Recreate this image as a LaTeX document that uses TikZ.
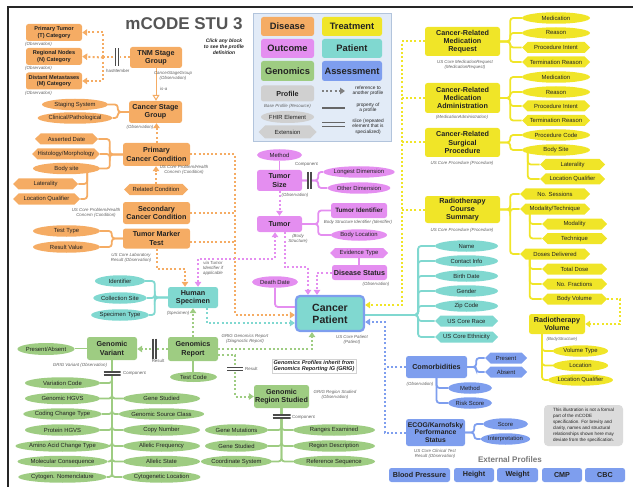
\documentclass[tikz,border=0pt]{standalone}
\usepackage{fontspec}
\setmainfont{Liberation Sans}
\usetikzlibrary{shapes.geometric,shapes.symbols,arrows.meta}
\pgfdeclarelayer{bg}
\pgfsetlayers{bg,main}
\definecolor{cO}{RGB}{245,172,100}
\definecolor{cY}{RGB}{240,229,40}
\definecolor{cV}{RGB}{228,142,240}
\definecolor{cT}{RGB}{128,216,208}
\definecolor{cG}{RGB}{158,204,130}
\definecolor{cB}{RGB}{126,158,238}
\definecolor{cGr}{RGB}{208,208,208}
\definecolor{txt}{RGB}{35,35,35}
\definecolor{labc}{RGB}{95,95,95}
\definecolor{barc}{RGB}{75,75,75}
\definecolor{titc}{RGB}{85,85,85}
\definecolor{legbg}{RGB}{226,235,247}
\definecolor{legbd}{RGB}{178,196,220}
\newcommand\fzE{\fontsize{5.9}{6.8}\selectfont}
\newcommand\fzP{\bfseries\fontsize{7.2}{8.3}\selectfont}
\newcommand\fzS{\bfseries\fontsize{5.6}{6.5}\selectfont}
\newcommand\fzL{\itshape\fontsize{4.4}{5.1}\selectfont}
\newcommand\fzC{\fontsize{4.4}{5.1}\selectfont}
\tikzset{
  wh/.style 2 args={minimum width=#1pt, minimum height=#2pt},
  prof/.style={rectangle, rounded corners=2.5pt, fill=#1, font=\fzP, text=txt, align=center, inner sep=0.5pt},
  elem/.style={ellipse, fill=#1, font=\fzE, text=txt, inner sep=0pt, minimum height=11.5pt},
  extn/.style={signal, signal to=east and west, fill=#1, font=\fzE, text=txt, inner sep=0pt, minimum height=11pt},
  lab/.style={font=\fzL, text=labc, align=center, inner sep=0pt},
  cmp/.style={font=\fzC, text=labc, inner sep=0pt, anchor=west},
  sline/.style={draw=#1, line width=1.8pt, rounded corners=3pt},
  dline/.style={draw=#1, line width=2pt, dash pattern=on 2pt off 2.2pt},
  darr/.style={dline=#1, -{Triangle[length=5pt,width=6.5pt]}},
  vbar/.style={rectangle, fill=white, inner sep=0pt, minimum width=5pt, minimum height=#1pt,
    path picture={\draw[line width=1.1pt, barc] ([xshift=1pt]path picture bounding box.north west) -- ([xshift=1pt]path picture bounding box.south west) ([xshift=-1pt]path picture bounding box.north east) -- ([xshift=-1pt]path picture bounding box.south east);}},
  hbar/.style={rectangle, fill=white, inner sep=0pt, minimum height=5pt, minimum width=#1pt,
    path picture={\draw[line width=1.1pt, barc] ([yshift=-1pt]path picture bounding box.north west) -- ([yshift=-1pt]path picture bounding box.north east) ([yshift=1pt]path picture bounding box.south west) -- ([yshift=1pt]path picture bounding box.south east);}},
}
\begin{document}
\begin{tikzpicture}[x=1pt,y=-1pt]
\useasboundingbox (0,0) rectangle (633,487);
\draw[line width=2pt, black!85] (8,487) -- (8,7) -- (633,7);

% title
\node[font=\bfseries\fontsize{17}{20}\selectfont, text=titc] (title) at (184,24) {mCODE STU 3};
\node[font=\bfseries\itshape\fontsize{5}{5.8}\selectfont, align=center, text=txt] (click) at (224,47) {Click any block\\to see the profile\\definition};

% legend
\node[fill=legbg, draw=legbd, line width=0.6pt, wh={138}{128}, inner sep=0pt] (legend) at (322,77) {};
\node[prof=cO, wh={53}{19}, font=\bfseries\fontsize{9.3}{10}\selectfont] (ldis) at (287.5,26.5) {Disease};
\node[prof=cY, wh={60}{19}, font=\bfseries\fontsize{9.3}{10}\selectfont] (ltre) at (352,26.5) {Treatment};
\node[prof=cV, wh={53}{19}, font=\bfseries\fontsize{9.3}{10}\selectfont] (lout) at (287.5,48.5) {Outcome};
\node[prof=cT, wh={60}{19}, font=\bfseries\fontsize{9.3}{10}\selectfont] (lpat) at (352,48.5) {Patient};
\node[prof=cG, wh={53}{20}, font=\bfseries\fontsize{9.3}{10}\selectfont] (lgen) at (287.5,71) {Genomics};
\node[prof=cB, wh={60}{20}, font=\bfseries\fontsize{9.3}{10}\selectfont] (lass) at (352,71) {Assessment};
\node[prof=cGr, wh={53}{16}] (lprof) at (287.5,93.5) {Profile};
\node[lab] (lprofl) at (287.5,106) {Base Profile (Resource)};
\node[elem=cGr, minimum width=53pt, minimum height=12pt] (lfhir) at (287.5,117) {FHIR Element};
\node[extn=cGr, minimum width=58pt, minimum height=13pt] (lext) at (287.5,132) {Extension};
\coordinate (lra) at (322,91); \coordinate (lrb) at (345,91);
\draw[darr=gray] (lra) -- (lrb);
\node[font=\fontsize{4.8}{5.5}\selectfont, align=center, text=txt] (lrt) at (368,91) {reference to\\another profile};
\coordinate (lpa) at (322,108); \coordinate (lpb) at (345,108);
\draw[line width=2pt, gray!80!black] (lpa) -- (lpb);
\node[font=\fontsize{4.8}{5.5}\selectfont, align=center, text=txt] (lpt) at (368,108) {property of\\a profile};
\coordinate (lsa) at (322,122.5); \coordinate (lsb) at (345,122.5);
\coordinate (lsc) at (322,126.5); \coordinate (lsd) at (345,126.5);
\draw[line width=1.5pt, gray!80!black] (lsa) -- (lsb) (lsc) -- (lsd);
\node[font=\fontsize{4.8}{5.5}\selectfont, align=center, text=txt] (lst) at (368,126.5) {slice (repeated\\element that is\\specialized)};

% ---------------- Disease (orange)
\node[prof=cO, wh={56}{17}, font=\fzS] (pt) at (54,32.5) {Primary Tumor\\(T) Category};
\node[lab, anchor=west] (ptl) at (25,44.5) {(Observation)};
\node[prof=cO, wh={56}{17}, font=\fzS] (rn) at (54,56.5) {Regional Nodes\\(N) Category};
\node[lab, anchor=west] (rnl) at (25,68.5) {(Observation)};
\node[prof=cO, wh={56}{17}, font=\fzS] (dm) at (54,81) {Distant Metastases\\(M) Category};
\node[lab, anchor=west] (dml) at (25,93) {(Observation)};
\node[prof=cO, wh={52}{21}] (tnm) at (156,57.5) {TNM Stage\\Group};
\node[lab] (tnml) at (173,76) {CancerStageGroup\\(Observation)};
\node[lab, anchor=west] (isa) at (160,89) {is-a};
\coordinate (tj) at (103,57.5);
\node[cmp] (hasm) at (106,71) {hasMember};
\node[prof=cO, wh={53}{22}] (csg) at (155.5,112) {Cancer Stage\\Group};
\node[lab] (csgl) at (140,127.5) {(Observation)};
\node[elem=cO, minimum width=66pt] (ss) at (75,104.5) {Staging System};
\node[elem=cO, minimum width=66pt] (cpn) at (75,118) {Clinical/Pathological};
\node[prof=cO, wh={67}{23}] (pcc) at (156.5,154.5) {Primary\\Cancer Condition};
\node[extn=cO, minimum width=63pt] (ad) at (66.5,139) {Asserted Date};
\node[extn=cO, minimum width=65pt] (hm) at (66,154) {Histology/Morphology};
\node[elem=cO, minimum width=67pt] (bs) at (66.5,168.5) {Body site};
\node[extn=cO, minimum width=65pt] (lat) at (45.5,184) {Laterality};
\node[extn=cO, minimum width=67pt] (lq) at (46.5,199) {Location Qualifier};
\node[lab] (pccl) at (184,170) {US Core Problem/Health\\Concern (Condition)};
\node[extn=cO, minimum width=64pt] (rc) at (156,189.5) {Related Condition};
\node[prof=cO, wh={67}{22}] (scc) at (156.5,213) {Secondary\\Cancer Condition};
\node[lab] (sccl) at (96,213) {US Core Problem/Health\\Concern (Condition)};
\node[prof=cO, wh={67}{20}] (tmt) at (156.5,238.5) {Tumor Marker\\Test};
\node[elem=cO, minimum width=67pt] (tt) at (66.5,231) {Test Type};
\node[elem=cO, minimum width=67pt] (rv) at (66.5,247) {Result Value};
\node[lab] (tmtl) at (131,257.5) {US Core Laboratory\\Result (Observation)};

% ---------------- Patient (teal)
\node[prof=cT, draw=cB, line width=2.2pt, rounded corners=4pt, wh={68}{35}, font=\bfseries\fontsize{10.5}{12}\selectfont] (cpat) at (330,313.5) {Cancer\\Patient};
\node[lab] (cpatl) at (352,340) {US Core Patient\\(Patient)};
\node[prof=cT, wh={50}{21}] (hs) at (193,297.5) {Human\\Specimen};
\node[lab] (hsl) at (178,313) {(Specimen)};
\node[elem=cT, minimum width=50pt] (idf) at (120,281) {Identifier};
\node[elem=cT, minimum width=50pt] (csite) at (120,298) {Collection Site};
\node[elem=cT, minimum width=50pt] (stype) at (120,315) {Specimen Type};
\node[elem=cT, minimum width=63pt] (nm) at (466.5,246) {Name};
\node[elem=cT, minimum width=63pt] (ci) at (466.5,261) {Contact Info};
\node[elem=cT, minimum width=63pt] (bd) at (466.5,276) {Birth Date};
\node[elem=cT, minimum width=63pt] (gen) at (466.5,291) {Gender};
\node[elem=cT, minimum width=63pt] (zc) at (466.5,306) {Zip Code};
\node[extn=cT, minimum width=63pt] (ucr) at (466.5,321) {US Core Race};
\node[extn=cT, minimum width=63pt] (uce) at (466.5,337) {US Core Ethnicity};

% ---------------- Outcome (violet)
\node[elem=cV, minimum width=45pt] (meth) at (279.5,155) {Method};
\node[cmp] (tscmp) at (295,164) {Component};
\node[prof=cV, wh={45}{21}] (ts) at (279.5,180.5) {Tumor\\Size};
\node[lab] (tsl) at (295,195) {(Observation)};
\node[vbar=17] (tsbar) at (309.5,180.5) {};
\node[elem=cV, minimum width=62pt] (ld) at (359,172) {Longest Dimension};
\node[elem=cV, minimum width=62pt] (odim) at (359,188) {Other Dimension};
\node[prof=cV, wh={45}{16}] (tu) at (279.5,224) {Tumor};
\node[lab] (tul) at (298,239) {(Body\\Structure)};
\node[prof=cV, wh={56}{15}, font=\bfseries\fontsize{6.3}{7}\selectfont] (ti) at (359,210.5) {Tumor Identifier};
\node[lab] (til) at (358,222.5) {Body Structure Identifier (Identifier)};
\node[elem=cV, minimum width=56pt] (bl) at (359,235) {Body Location};
\node[extn=cV, minimum width=58pt, minimum height=10pt] (et) at (359,253) {Evidence Type};
\node[prof=cV, wh={55}{15}] (ds) at (359.5,272.5) {Disease Status};
\node[lab] (dsl) at (376,284) {(Observation)};
\node[elem=cV, minimum width=46pt] (dd) at (275,282) {Death Date};
\node[lab] (viat) at (213,268) {via Tumor\\Identifier if\\applicable};

% ---------------- Genomics (green)
\node[prof=cG, wh={50}{24}] (gr) at (193,349) {Genomics\\Report};
\node[lab] (grl) at (245,339) {GRIG Genomics Report\\(Diagnostic Report)};
\node[elem=cG, minimum width=47pt, minimum height=10pt] (tc) at (193.5,377) {Test Code};
\node[prof=cG, wh={50}{23}] (gv) at (112,348.5) {Genomic\\Variant};
\node[vbar=20] (gvbar) at (154.5,348.5) {};
\node[cmp, anchor=center] (gvres) at (158,361) {Result};
\node[elem=cG, minimum width=52pt, minimum height=12pt] (pa) at (46,349) {Present/Absent};
\node[lab] (gvl) at (80,365) {GRIG Variant (Observation)};
\node[hbar=17] (gvcb) at (112,373.5) {};
\node[cmp] (gvcmp) at (123,373.5) {Component};
\node[elem=cG, minimum width=75pt, minimum height=11.5pt] (vc) at (62.5,383) {Variation Code};
\node[elem=cG, minimum width=75pt, minimum height=11.5pt] (gh) at (62.5,398.5) {Genomic HGVS};
\node[elem=cG, minimum width=75pt, minimum height=11.5pt] (cct) at (62.5,414) {Coding Change Type};
\node[elem=cG, minimum width=75pt, minimum height=11.5pt] (ph) at (62.5,430) {Protein HGVS};
\node[elem=cG, minimum width=75pt, minimum height=11.5pt] (aac) at (62.5,446) {Amino Acid Change Type};
\node[elem=cG, minimum width=75pt, minimum height=11.5pt] (mc) at (62.5,461.5) {Molecular Consequence};
\node[elem=cG, minimum width=75pt, minimum height=11.5pt] (cyn) at (62.5,477) {Cytogen. Nomenclature};
\node[elem=cG, minimum width=77pt, minimum height=11.5pt] (gst) at (161.5,398.5) {Gene Studied};
\node[elem=cG, minimum width=77pt, minimum height=11.5pt] (gsc) at (161.5,414) {Genomic Source Class};
\node[elem=cG, minimum width=77pt, minimum height=11.5pt] (cnum) at (161.5,430) {Copy Number};
\node[elem=cG, minimum width=77pt, minimum height=11.5pt] (afr) at (161.5,446) {Allelic Frequency};
\node[elem=cG, minimum width=77pt, minimum height=11.5pt] (ast) at (161.5,461.5) {Allelic State};
\node[elem=cG, minimum width=77pt, minimum height=11.5pt] (cyl) at (161.5,477) {Cytogenetic Location};
\node[hbar=16] (grcb) at (235,369) {};
\node[cmp] (grres) at (245,369) {Result};
\node[draw=gray!35, fill=white, font=\bfseries\itshape\fontsize{5.5}{6.4}\selectfont, align=left, inner sep=1.5pt, text=txt] (grig) at (314,366) {Genomics Profiles inherit from\\Genomics Reporting IG (GRIG)};
\node[prof=cG, wh={55}{23}] (grs) at (281.5,396.5) {Genomic\\Region Studied};
\node[lab] (grsl) at (335,395) {GRIG Region Studied\\(Observation)};
\node[hbar=18] (grscb) at (281.5,416.5) {};
\node[cmp] (grscmp) at (292,417) {Component};
\node[elem=cG, minimum width=63pt, minimum height=11.5pt] (gm) at (236.5,430) {Gene Mutations};
\node[elem=cG, minimum width=63pt, minimum height=11.5pt] (gs2) at (236.5,446) {Gene Studied};
\node[elem=cG, minimum width=63pt, minimum height=11.5pt] (cs2) at (236.5,461.5) {Coordinate System};
\node[elem=cG, minimum width=82pt, minimum height=11.5pt] (rex) at (334,430) {Ranges Examined};
\node[elem=cG, minimum width=82pt, minimum height=11.5pt] (rdes) at (334,446) {Region Description};
\node[elem=cG, minimum width=82pt, minimum height=11.5pt] (rseq) at (334,461.5) {Reference Sequence};

% ---------------- Assessment (blue)
\node[prof=cB, wh={61}{22}] (com) at (436.5,367) {Comorbidities};
\node[lab] (coml) at (420,384) {(Observation)};
\node[extn=cB, minimum width=42pt] (pres) at (506,358) {Present};
\node[extn=cB, minimum width=42pt] (abs) at (506,372) {Absent};
\node[elem=cB, minimum width=44pt] (me) at (470,388) {Method};
\node[elem=cB, minimum width=44pt] (rsk) at (470,403) {Risk Score};
\node[prof=cB, wh={59}{27}, font=\bfseries\fontsize{6.8}{7.9}\selectfont] (ecog) at (435.5,432.5) {ECOG/Karnofsky\\Performance\\Status};
\node[lab] (ecogl) at (435,453.5) {US Core Clinical Test\\Result (Observation)};
\node[elem=cB, minimum width=45pt] (sco) at (505.5,424) {Score};
\node[elem=cB, minimum width=45pt] (intp) at (505.5,439) {Interpretation};
\node[font=\bfseries\fontsize{8.1}{9}\selectfont, text=gray!95!black] (extp) at (510,460) {External Profiles};
\node[prof=cB, wh={61}{14}] (bp) at (419.5,475) {Blood Pressure};
\node[prof=cB, wh={40}{14}] (ht) at (474,475) {Height};
\node[prof=cB, wh={41}{14}] (wt) at (517.5,475) {Weight};
\node[prof=cB, wh={40}{14}] (cmpn) at (562,475) {CMP};
\node[prof=cB, wh={40}{14}] (cbc) at (605,475) {CBC};
\node[fill=gray!28, rounded corners=4pt, wh={79}{41}, font=\fontsize{4.6}{6}\selectfont, align=left, text=txt, inner sep=2pt] (note) at (583.5,425.5) {This illustration is not a formal\\part of the mCODE\\specification. For brevity and\\clarity, names and structural\\relationships shown here may\\deviate from the specification.};

% ---------------- Treatment (yellow)
\node[prof=cY, wh={75}{29}] (mr) at (462.5,41.5) {Cancer-Related\\Medication\\Request};
\node[lab] (mrl) at (465,65) {US Core MedicationRequest\\(MedicationRequest)};
\node[elem=cY, minimum width=68pt] (m1) at (556,18) {Medication};
\node[elem=cY, minimum width=68pt] (r1) at (556,33) {Reason};
\node[extn=cY, minimum width=68pt] (pi1) at (556,47.5) {Procedure Intent};
\node[extn=cY, minimum width=68pt] (tr1) at (556,62) {Termination Reason};
\node[prof=cY, wh={75}{30}] (ma) at (462.5,98) {Cancer-Related\\Medication\\Administration};
\node[lab] (mal) at (462,117.5) {(MedicationAdministration)};
\node[elem=cY, minimum width=68pt] (m2) at (556,77) {Medication};
\node[elem=cY, minimum width=68pt] (r2) at (556,92) {Reason};
\node[extn=cY, minimum width=68pt] (pi2) at (556,106) {Procedure Intent};
\node[extn=cY, minimum width=68pt] (tr2) at (556,120.5) {Termination Reason};
\node[prof=cY, wh={75}{29}] (sp) at (462.5,142.5) {Cancer-Related\\Surgical\\Procedure};
\node[lab] (spl) at (462,163) {US Core Procedure (Procedure)};
\node[elem=cY, minimum width=68pt] (pc) at (556,135) {Procedure Code};
\node[elem=cY, minimum width=68pt] (bsite) at (556,150) {Body Site};
\node[extn=cY, minimum width=65pt] (lat2) at (572.5,164.5) {Laterality};
\node[extn=cY, minimum width=65pt] (lq2) at (572.5,179) {Location Qualifier};
\node[prof=cY, wh={75}{27}] (rcs) at (462.5,209.5) {Radiotherapy\\Course\\Summary};
\node[lab] (rcsl) at (462,230) {US Core Procedure (Procedure)};
\node[extn=cY, minimum width=70pt] (ns) at (555,194) {No. Sessions};
\node[extn=cY, minimum width=70pt] (mt) at (555,209) {Modality/Technique};
\node[extn=cY, minimum width=65pt] (mo) at (574.5,224) {Modality};
\node[extn=cY, minimum width=65pt] (te) at (574.5,238.5) {Technique};
\node[extn=cY, minimum width=70pt] (dsd) at (555,254) {Doses Delivered};
\node[extn=cY, minimum width=65pt] (tdo) at (574.5,269) {Total Dose};
\node[extn=cY, minimum width=65pt] (nf) at (574.5,284) {No. Fractions};
\node[extn=cY, minimum width=65pt] (bv) at (574.5,299) {Body Volume};
\node[prof=cY, wh={56}{20}] (rv2) at (557,324) {Radiotherapy\\Volume};
\node[lab] (rv2l) at (562,339) {(BodyStructure)};
\node[elem=cY, minimum width=55pt] (vt) at (580.5,351) {Volume Type};
\node[elem=cY, minimum width=55pt] (loc) at (580.5,365.5) {Location};
\node[elem=cY, minimum width=55pt] (lq3) at (580.5,380) {Location Qualifier};

\node[vbar=18] (tbar) at (117,57.5) {};

% ---------------- connectors
\begin{pgfonlayer}{bg}
% orange
\draw[dline=cO] (tnm.west) -- (tj);
\draw[darr=cO] (tj) |- (pt.east);
\draw[darr=cO] (tj) -- (rn.east);
\draw[darr=cO] (tj) |- (dm.east);
\draw[draw=cO, line width=1pt, -{Triangle[open,length=6pt,width=7pt,fill=white]}] (tnm.south) -- (tnm.south |- csg.north);
\draw[sline=cO] (csg.west) -- ++(-11,0) |- (ss.east);
\draw[sline=cO] (csg.west) -- ++(-11,0) |- (cpn.east);
\draw[darr=cO] (pcc.north) -- (pcc.north |- csg.south);
\draw[sline=cO] (pcc.west) -- ++(-13,0) |- (ad.east);
\draw[sline=cO] (pcc.west) -- ++(-13,0) |- (hm.east);
\draw[sline=cO] (pcc.west) -- ++(-13,0) |- (bs.east);
\draw[sline=cO] ([xshift=-13pt]bs.east) |- (lat.east);
\draw[sline=cO] ([xshift=-13pt]bs.east) |- (lq.east);
\draw[darr=cO] (rc.north) -- (rc.north |- pcc.south);
\draw[sline=cO] (tmt.west) -- ++(-11,0) |- (tt.east);
\draw[sline=cO] (tmt.west) -- ++(-11,0) |- (rv.east);
\coordinate (otr) at (235,315);
\draw[darr=cO] (pcc.east) -| (otr) -- ([yshift=-1.5pt]cpat.west);
\draw[dline=cO] (scc.east) -- (scc.east -| otr);
\draw[dline=cO] ([yshift=-3pt]tmt.east) -- ([yshift=-3pt]tmt.east -| otr);
\draw[darr=cO] (tmt.south) -- ++(0,20) -| ([xshift=-8pt]hs.north);
% teal
\draw[sline=cT] (hs.west) -- ++(-13,0) |- (idf.east);
\draw[sline=cT] (hs.west) -- ++(-13,0) |- (csite.east);
\draw[sline=cT] (hs.west) -- ++(-13,0) |- (stype.east);
\draw[darr=cT] ([xshift=14pt]hs.south) |- ([yshift=-9.5pt]cpat.west);
\foreach \e in {nm,ci,bd,gen,zc,ucr,uce}{
  \draw[sline=cT] ([yshift=-1.5pt]cpat.east) -- ++(53,0) |- (\e.west);
}
% violet
\draw[sline=cV] (meth.south) -- (meth.south |- ts.north);
\draw[sline=cV] (ts.east) -- ++(16,0) |- (ld.west);
\draw[sline=cV] (ts.east) -- ++(16,0) |- (odim.west);
\draw[darr=cV] (ts.south) -- (tu.north);
\draw[sline=cV] (tu.east) -- ++(16,0) |- (ti.west);
\draw[sline=cV] (tu.east) -- ++(16,0) |- (bl.west);
\draw[sline=cV] (et.south) -- (et.south |- ds.north);
\draw[darr=cV] (ds.west) -| ([xshift=-13pt]cpat.north);
\draw[darr=cV] ([xshift=5pt]tu.south) -- ++(0,35) -| ([xshift=-22pt]cpat.north);
\draw[sline=cV] (dd.south) |- ([yshift=6.5pt]cpat.west);
\draw[dline=cV, {Triangle[length=5pt,width=6.5pt]}-{Triangle[length=5pt,width=6.5pt]}] ([xshift=5pt]hs.north) -- ++(0,-28) -| ([xshift=-4.5pt]tu.south);
% green
\draw[darr=cG] (gr.north) -- (gr.north |- hs.south);
\draw[darr=cG] (gr.east) -| ([xshift=-18pt]cpat.south);
\draw[sline=cG] (gr.south) -- (gr.south |- tc.north);
\draw[darr=cG] (gr.west) -- (gr.west -| gv.east);
\draw[sline=cG] (gv.west) -- (gv.west -| pa.east);
\foreach \e in {vc,gh,cct,ph,aac,mc,cyn}{\draw[sline=cG] (gv.south) |- (\e.east);}
\foreach \e in {gst,gsc,cnum,afr,ast,cyl}{\draw[sline=cG] (gv.south) |- (\e.west);}
\draw[darr=cG] ([yshift=-6pt]gr.east) -- ++(17,0) |- (grs.west);
\foreach \e in {gm,gs2,cs2}{\draw[sline=cG] (grs.south) |- (\e.east);}
\foreach \e in {rex,rdes,rseq}{\draw[sline=cG] (grs.south) |- (\e.west);}
% blue
\draw[darr=cB] (ecog.west) -- ++(-21,0) |- ([yshift=-8.5pt]cpat.east);
\draw[dline=cB] (com.west) -- ++(-21,0);
\draw[sline=cB] (com.east) -- ++(9,0) |- (pres.west);
\draw[sline=cB] (com.east) -- ++(9,0) |- (abs.west);
\draw[sline=cB] (com.south) |- (me.west);
\draw[sline=cB] (com.south) |- (rsk.west);
\draw[sline=cB] (ecog.east) -- ++(9,0) |- (sco.west);
\draw[sline=cB] (ecog.east) -- ++(9,0) |- (intp.west);
% yellow
\draw[darr=cY] (mr.west) -- ++(-23,0) |- ([yshift=8.5pt]cpat.east);
\draw[dline=cY] (ma.west) -- ++(-23,0);
\draw[dline=cY] (sp.west) -- ++(-23,0);
\draw[dline=cY] (rcs.west) -- ++(-23,0);
\foreach \e in {m1,r1,pi1,tr1}{\draw[sline=cY] (mr.east) -- ++(10,0) |- (\e.west);}
\foreach \e in {m2,r2,pi2,tr2}{\draw[sline=cY] (ma.east) -- ++(10,0) |- (\e.west);}
\foreach \e in {pc,bsite}{\draw[sline=cY] (sp.east) -- ++(10,0) |- (\e.west);}
\foreach \e in {lat2,lq2}{\draw[sline=cY] ([xshift=6pt]bsite.west) |- (\e.west);}
\foreach \e in {ns,mt,dsd}{\draw[sline=cY] (rcs.east) -- ++(10,0) |- (\e.west);}
\foreach \e in {mo,te}{\draw[sline=cY] ([xshift=10pt]mt.west) |- (\e.west);}
\foreach \e in {tdo,nf,bv}{\draw[sline=cY] ([xshift=10pt]dsd.west) |- (\e.west);}
\draw[darr=cY] (bv.east) -- ++(13,0) |- (rv2.east);
\foreach \e in {vt,loc,lq3}{\draw[sline=cY] ([xshift=-15pt]rv2.south) |- (\e.west);}
\end{pgfonlayer}
\end{tikzpicture}
\end{document}
